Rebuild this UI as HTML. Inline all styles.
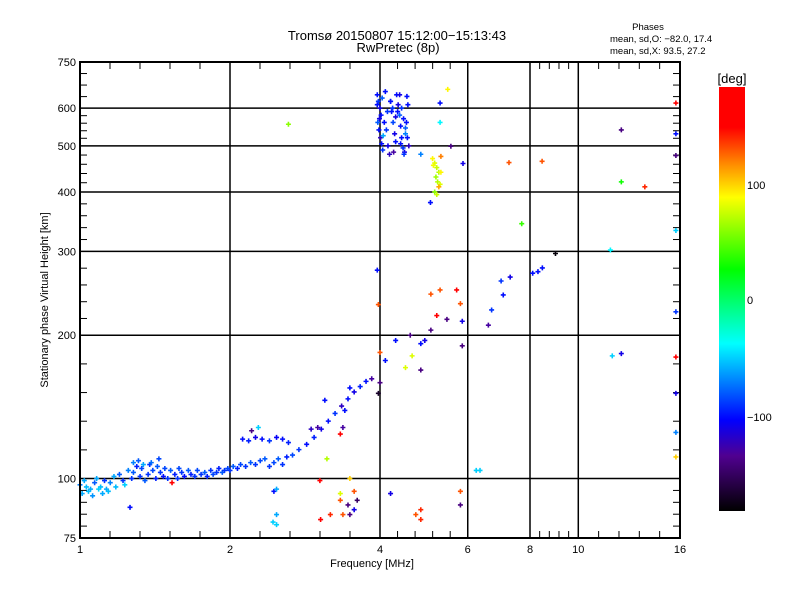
<!DOCTYPE html>
<html><head><meta charset="utf-8"><style>
body{margin:0;background:#fff}
svg{display:block;font-family:"Liberation Sans",sans-serif}
</style></head><body>
<svg id="chart" width="800" height="600" viewBox="0 0 800 600" xmlns="http://www.w3.org/2000/svg">
<defs>
<linearGradient id="cbar" x1="0" y1="0" x2="0" y2="1">
<stop offset="0" stop-color="#ff0000"/>
<stop offset="0.095" stop-color="#ff0000"/>
<stop offset="0.185" stop-color="#ff9000"/>
<stop offset="0.26" stop-color="#ffff00"/>
<stop offset="0.43" stop-color="#00ff00"/>
<stop offset="0.605" stop-color="#00ffff"/>
<stop offset="0.785" stop-color="#0000ff"/>
<stop offset="0.87" stop-color="#500090"/>
<stop offset="1" stop-color="#000000"/>
</linearGradient>
</defs>
<rect x="0" y="0" width="800" height="600" fill="#fff"/>
<g id="grid"></g>
<g id="ticks"></g>
<g id="marks"></g>
<rect x="80" y="62" width="600" height="476" fill="none" stroke="#000" stroke-width="2"/>
<g id="labels" font-size="11" fill="#000"></g>
<text x="397" y="40" font-size="13" text-anchor="middle">Tromsø 20150807 15:12:00−15:13:43</text>
<text x="398" y="52" font-size="13" text-anchor="middle">RwPretec (8p)</text>
<text x="648" y="30" font-size="9.5" text-anchor="middle">Phases</text>
<text x="610" y="42" font-size="9.5">mean, sd,O: −82.0, 17.4</text>
<text x="610" y="54" font-size="9.5">mean, sd,X:  93.5, 27.2</text>
<text x="372" y="567" font-size="11" text-anchor="middle">Frequency [MHz]</text>
<text transform="translate(48,300) rotate(-90)" font-size="11" text-anchor="middle">Stationary phase Virtual Height [km]</text>
<rect x="719" y="87" width="26" height="424" fill="url(#cbar)"/>
<text x="732" y="83" font-size="13" text-anchor="middle">[deg]</text>
<text x="747" y="189" font-size="11">100</text>
<text x="747" y="304" font-size="11">0</text>
<text x="747" y="421" font-size="11">−100</text>
</svg>
<script>
const xTickVals=[1,2,4,6,8,10,16];
const xTickLabels=["1","2","4","6","8","10","16"];
const xGridVals=[2,4,6,8,10];
const yTickVals=[75,100,200,300,400,500,600,750];
const yTickLabels=["75","100","200","300","400","500","600","750"];
const yGridVals=[100,200,300,400,500,600];
const freqs=[
1.00,1.02,1.03,1.05,1.07,1.08,1.10,1.12,1.13,1.15,1.17,1.18,1.20,1.22,1.23,1.25,1.27,1.28,1.30,1.32,1.33,1.35,1.37,1.38,1.40,1.42,1.43,1.45,1.47,1.48,1.50,1.52,1.55,1.57,1.58,1.60,1.62,1.65,1.67,1.70,1.72,1.75,1.78,1.80,1.83,1.85,1.88,1.90,1.93,1.95,1.98,2.00,2.03,2.07,2.10,2.15,2.20,2.25,2.30,2.35,2.40,2.45,2.50,2.55,2.60,2.67,2.75,2.85,2.95,3.05,3.15,3.25,3.35,3.45,3.55,3.65,3.75,3.85,
2.12,2.18,2.25,2.32,2.40,2.48,2.55,2.62,1.01,1.04,1.06,1.09,1.11,1.14,1.28,1.31,1.34,1.39,1.44,
3.95,3.97,4.0,4.02,3.96,3.98,4.01,4.03,4.05,3.95,3.99,4.04,4.08,4.12,4.15,4.2,4.22,4.25,4.28,4.3,4.18,4.24,4.32,4.35,4.38,4.4,4.42,4.45,4.48,4.5,4.52,4.55,4.38,4.42,4.46,4.5,4.54,4.57,4.1,4.14,4.2,4.3,4.4,4.47,4.53,4.06,4.26,4.34,
5.1,5.15,5.2,5.25,5.12,5.18,5.22,5.28,5.3,5.15,5.2,5.25,5.05,5.3,
2.62,5.47,5.28,5.28,5.55,4.83,5.87,7.26,8.46,7.7,12.2,12.2,13.6,15.7,15.7,15.7,15.7,15.7,15.7,15.7,15.7,15.7,11.6,12.2,11.7,9.0,8.47,8.3,8.1,7.3,7.0,7.07,6.7,6.6,5.85,5.8,5.7,5.28,5.06,5.2,5.45,5.06,4.92,4.83,5.85,4.64,4.5,4.0,3.95,3.97,4.0,3.97,4.1,4.3,4.6,4.83,
6.35,6.24,5.8,5.8,4.83,4.83,4.72,4.2,3.6,3.55,3.48,3.45,3.37,3.33,3.55,3.33,3.48,3.03,3.18,3.04,2.45,2.48,2.48,2.44,2.48,1.26,1.53,2.21,2.28,2.91,3.0,3.1,3.48,3.4,3.37,3.33,3.13];
const heights=[
97,99,96,95,98,100,96,99,95,98,101,96,102,99,97,104,100,103,106,101,105,99,102,107,104,100,106,103,101,105,100,104,102,100,105,103,101,104,102,101,104,102,103,101,104,102,103,105,103,104,105,104,106,105,107,106,108,107,109,110,106,108,110,107,111,112,115,118,122,127,132,137,142,147,152,156,160,162,
121,120,122,121,120,122,121,119,93,94,92,95,93,94,108,109,107,108,110,
640,620,600,580,560,540,520,505,490,610,570,630,560,540,500,620,590,560,530,510,480,600,640,610,580,550,520,495,485,530,560,610,640,600,570,545,520,500,650,590,620,575,505,480,635,525,485,590,
470,460,450,440,455,430,420,415,440,400,395,410,380,475,
555,657,615,560,499,480,459,461,464,343,540,420,410,615,530,477,332,224,180,151,125,111,302,183,181,297,277,272,270,265,260,243,226,210,214,233,249,249,244,220,216,205,195,192,190,181,171,184,274,232,159,151,177,195,200,169,
104,104,94,88,86,82,84,93,90,86,84,88,84,90,94,93,100,99,84,82,94,84,80,81,95,87,98,126,128,127,128,146,155,139,128,124,110];
const phases=[
-70,-60,-55,-60,-80,-60,-55,-90,-60,-70,-60,-55,-80,-90,-50,-70,-90,-80,-95,-90,-85,-80,-90,-90,-85,-95,-80,-90,-100,-85,-90,-80,-95,-90,-85,-90,-100,-80,-95,-90,-85,-90,-80,-95,-90,-85,-90,-95,-80,-90,-85,-90,-80,-95,-85,-90,-80,-90,-85,-80,-90,-85,-80,-90,-95,-85,-90,-100,-95,-110,-100,-90,-120,-100,-110,-95,-100,-130,
-100,-95,-110,-100,-90,-105,-100,-95,-60,-55,-65,-50,-60,-55,-70,-80,-60,-75,-85,
-100,-90,-110,-100,-80,-100,-120,-100,-90,-100,-110,-80,-100,-90,-110,-100,-100,-85,-110,-100,-120,-90,-100,-110,-80,-100,-100,-90,-110,-70,-100,-100,-110,-90,-100,-80,-100,-120,-100,-90,-100,-110,-100,-90,-100,-60,-130,-100,
90,80,75,70,85,65,70,80,90,60,75,110,-100,120,
60,90,-100,-40,-140,-70,-110,130,130,40,-140,30,140,170,-100,-140,-50,-90,160,-110,-70,100,-40,-110,-50,-180,-100,-100,-100,-110,-90,-100,-90,-130,-110,130,160,130,130,170,-140,-140,-110,-100,-140,80,80,130,-100,130,-140,-170,-100,-100,-140,-140,
-50,-50,130,-140,140,140,130,-110,-150,-110,-140,-140,130,130,130,80,100,160,140,160,-100,-60,-50,-50,-60,-100,170,-140,-50,-120,-130,-100,-100,-100,-130,170,70];

const X0=80,X1=680,Y0=538,Y1=62;
function xScale(f){return X0+(X1-X0)*Math.log(f)/Math.log(16);}
function yScale(h){return Y0-(Y0-Y1)*Math.log(h/75)/Math.log(10);}
const cstops=[[180,[255,0,0]],[149,[255,0,0]],[116,[255,144,0]],[88,[255,255,0]],[27,[0,255,0]],[-38,[0,255,255]],[-103,[0,0,255]],[-135,[80,0,144]],[-183,[0,0,0]]];
function phaseColor(p){
  for(let i=0;i<cstops.length-1;i++){
    const a=cstops[i],b=cstops[i+1];
    if(p<=a[0]&&p>=b[0]){const t=(a[0]-p)/(a[0]-b[0]);
      return 'rgb('+a[1].map((v,k)=>Math.round(v+(b[1][k]-v)*t)).join(',')+')';}
  }
  return p>0?'rgb(255,0,0)':'rgb(0,0,0)';
}
const NS='http://www.w3.org/2000/svg';
function mk(tag,parent,attrs){const e=document.createElementNS(NS,tag);for(const k in attrs)e.setAttribute(k,attrs[k]);parent.appendChild(e);return e;}
const grid=document.getElementById('grid');
xGridVals.forEach(v=>{const l=mk('line',grid,{x1:xScale(v),x2:xScale(v),y1:Y1,y2:Y0,stroke:'#000','stroke-width':1.5});

});
yGridVals.forEach(v=>{const l=mk('line',grid,{x1:X0,x2:X1,y1:yScale(v),y2:yScale(v),stroke:'#000','stroke-width':1.5});

});
const ticks=document.getElementById('ticks');
for(let i=0;i<xTickVals.length-1;i++){
  const a=xScale(xTickVals[i]),b=xScale(xTickVals[i+1]);
  if(xTickVals[i]===6)continue;
  for(let k=1;k<5;k++){const x=a+(b-a)*k/5;
    const t1=mk('line',ticks,{x1:x,x2:x,y1:Y0,y2:Y0-7,stroke:'#000','stroke-width':1});
    
    
    const t2=mk('line',ticks,{x1:x,x2:x,y1:Y1,y2:Y1+7,stroke:'#000','stroke-width':1});
    
    }
}
for(let i=0;i<yTickVals.length-1;i++){
  const a=yScale(yTickVals[i]),b=yScale(yTickVals[i+1]);
  const n=yTickVals[i]===600?4:5;
  for(let k=1;k<n;k++){const y=a+(b-a)*k/n;
    const t1=mk('line',ticks,{x1:X0,x2:X0+7,y1:y,y2:y,stroke:'#000','stroke-width':1});
    
    
    const t2=mk('line',ticks,{x1:X1,x2:X1-7,y1:y,y2:y,stroke:'#000','stroke-width':1});
    
    }
}
const labels=document.getElementById('labels');
xTickVals.forEach((v,i)=>{const t=mk('text',labels,{x:xScale(v),y:553,'text-anchor':'middle'});t.textContent=xTickLabels[i];

});
yTickVals.forEach((v,i)=>{const t=mk('text',labels,{x:76,y:yScale(v)+4,'text-anchor':'end'});t.textContent=yTickLabels[i];

});
const marks=document.getElementById('marks');
for(let i=0;i<freqs.length;i++){
  const x=xScale(freqs[i]),y=yScale(heights[i]);
  const p=mk('path',marks,{d:'M'+(x-2.5)+' '+y+'h5M'+x+' '+(y-2.5)+'v5',stroke:phaseColor(phases[i]),'stroke-width':1.6,fill:'none'});
  
  
}
</script>
</body></html>
